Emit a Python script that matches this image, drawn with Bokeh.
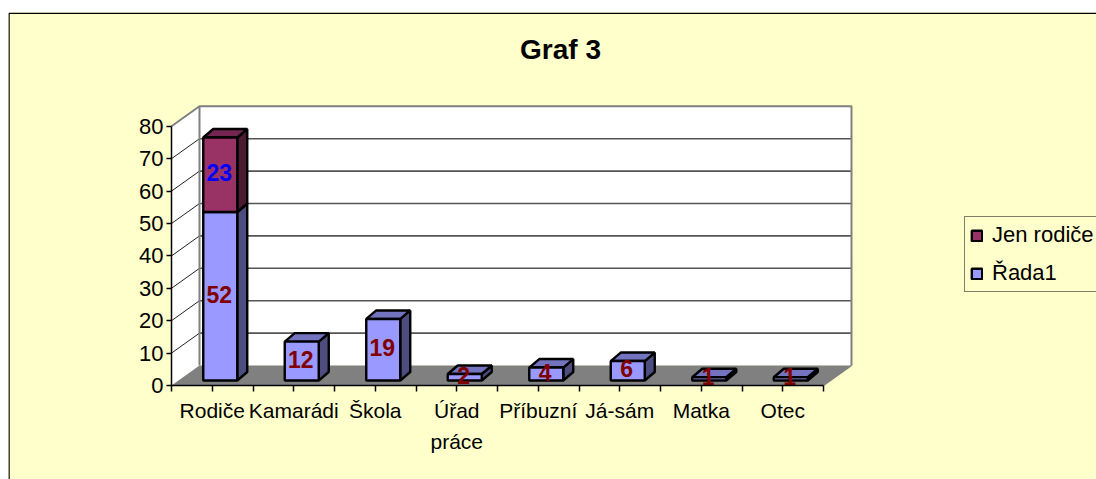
from bokeh.plotting import figure
from bokeh.embed import file_html
from bokeh.resources import INLINE
from bokeh.models import LinearAxis, FixedTicker, Legend, LegendItem, Range1d
from bokeh.core.properties import value

title = "Graf 3"
categories = ["Rodiče", "Kamarádi", "Škola", "Úřad\npráce", "Příbuzní", "Já-sám", "Matka", "Otec"]
rada1 = [52, 12, 19, 2, 4, 6, 1, 1]
jen_rodice = [23, 0, 0, 0, 0, 0, 0, 0]
y_ticks = [0, 10, 20, 30, 40, 50, 60, 70, 80]
series_names = ["Jen rodiče", "Řada1"]

# scale: pixels per unit, and 3-D projection expressed in pixels
PX_X, PX_Y = 81.5, 3.24
FONT = "Liberation Sans"
WALL_DX, WALL_DY = 28 / PX_X, 20 / PX_Y
BAR_W = 34 / PX_X
BAR_SHIFT_X, BAR_SHIFT_Y = 8 / PX_X, 5 / PX_Y
DEPTH_X, DEPTH_Y = 10 / PX_X, 8.5 / PX_Y
N = len(categories)
YMAX = y_ticks[-1]
BG = "#FFFFCC"

p = figure(width=1096, height=479, output_backend="svg", toolbar_location=None,
           x_range=Range1d(-163 / PX_X, 925 / PX_X), y_range=Range1d(-94 / PX_Y, 373 / PX_Y),
           min_border_left=8, min_border_right=0, min_border_bottom=0, min_border_top=12,
           x_axis_type=None, y_axis_type=None, background_fill_color=BG, border_fill_color="white",
           outline_line_color=None)
p.grid.visible = False

# chart area border: left and top sides visible, others fall outside the frame
p.quad(left=[-163 / PX_X + 0.006], right=[20], top=[373 / PX_Y - 0.25], bottom=[-100],
       fill_color=BG, line_color="black", line_width=1.5)

# walls and floor
p.patch([0, WALL_DX, WALL_DX, 0], [0, WALL_DY, YMAX + WALL_DY, YMAX], fill_color="white", line_color=None)
p.patch([WALL_DX, N + WALL_DX, N + WALL_DX, WALL_DX], [WALL_DY, WALL_DY, YMAX + WALL_DY, YMAX + WALL_DY],
        fill_color="white", line_color=None)
p.patch([0, N, N + WALL_DX, WALL_DX], [0, 0, WALL_DY, WALL_DY], fill_color="#808080", line_color=None)

grid = y_ticks[1:-1]
p.segment([0] * len(grid), grid, [WALL_DX] * len(grid), [g + WALL_DY for g in grid], line_color="#222222", line_width=1)
p.segment([WALL_DX] * len(grid), [g + WALL_DY for g in grid], [N + WALL_DX] * len(grid), [g + WALL_DY for g in grid],
          line_color="#555555", line_width=1.6)
p.line([0, WALL_DX, N + WALL_DX, N + WALL_DX], [YMAX, YMAX + WALL_DY, YMAX + WALL_DY, WALL_DY],
       line_color="#808080", line_width=2)
p.line([WALL_DX, WALL_DX], [WALL_DY, YMAX + WALL_DY], line_color="#808080", line_width=2)
p.line([N, N + WALL_DX], [0, WALL_DY], line_color="#808080", line_width=1.5)


def draw(idx, low, high, face, side, top):
    xl = [i + 0.5 + BAR_SHIFT_X - BAR_W / 2 for i in idx]
    xr = [x + BAR_W for x in xl]
    bot = [l + BAR_SHIFT_Y for l in low]
    tp = [h + BAR_SHIFT_Y for h in high]
    p.patches([[r, r + DEPTH_X, r + DEPTH_X, r] for r in xr],
              [[b, b + DEPTH_Y, t + DEPTH_Y, t] for b, t in zip(bot, tp)],
              fill_color=side, line_color="black", line_width=2.4)
    p.patches([[l, r, r + DEPTH_X, l + DEPTH_X] for l, r in zip(xl, xr)],
              [[t, t, t + DEPTH_Y, t + DEPTH_Y] for t in tp],
              fill_color=top, line_color="black", line_width=2.4)
    return p.quad(left=xl, right=xr, bottom=bot, top=tp, fill_color=face, line_color="black", line_width=2.4)


idx_a = list(range(N))
r_a = draw(idx_a, [0] * N, rada1, "#9999FF", "#4D4D80", "#7373BF")
idx_b = [i for i in range(N) if jen_rodice[i] > 0]
r_b = draw(idx_b, [rada1[i] for i in idx_b], [rada1[i] + jen_rodice[i] for i in idx_b],
           "#993366", "#4D1A33", "#732650")

# value labels
LABEL_UP = 2 / PX_Y
p.text([i + 0.5 + BAR_SHIFT_X - 1 / PX_X for i in idx_a], [rada1[i] / 2 + BAR_SHIFT_Y + LABEL_UP for i in idx_a],
       text=[str(v) for v in rada1], text_color="#800000", text_font=value(FONT), text_font_style="bold",
       text_font_size="23px", text_align="center", text_baseline="middle")
p.text([i + 0.5 + BAR_SHIFT_X - 1 / PX_X for i in idx_b],
       [rada1[i] + jen_rodice[i] / 2 + BAR_SHIFT_Y + LABEL_UP for i in idx_b],
       text=[str(jen_rodice[i]) for i in idx_b], text_color="#0000FF", text_font=value(FONT), text_font_style="bold",
       text_font_size="23px", text_align="center", text_baseline="middle")

# axes
yax = LinearAxis(fixed_location=0, bounds=(0, YMAX), ticker=FixedTicker(ticks=y_ticks))
yax.major_label_text_font = FONT
yax.major_label_text_font_size = "22px"
yax.major_label_text_color = "black"
yax.major_tick_out = 5
yax.major_tick_in = 0
yax.major_tick_line_color = "black"
yax.major_tick_line_width = 1.5
yax.minor_tick_line_color = None
yax.axis_line_color = "black"
yax.axis_line_width = 1.5
yax.major_label_standoff = 3
p.add_layout(yax, "left")

half = [i / 2 for i in range(2 * N + 1)]
xax = LinearAxis(fixed_location=0, bounds=(0, N), ticker=FixedTicker(ticks=half))
xax.major_label_overrides = {h: (categories[int(h)].split("\n")[0] if h != int(h) else "") for h in half}
xax.major_label_text_font = FONT
xax.major_label_text_font_size = "21px"
xax.major_label_text_color = "black"
xax.major_tick_out = 6
xax.major_tick_in = 0
xax.major_tick_line_color = "black"
xax.major_tick_line_width = 1.5
xax.minor_tick_line_color = None
xax.axis_line_color = "black"
xax.axis_line_width = 1.5
xax.major_label_standoff = 7
p.add_layout(xax, "below")

# second lines of wrapped category labels
second = [(i, c.split("\n")[1]) for i, c in enumerate(categories) if "\n" in c]
p.text([i + 0.5 for i, _ in second], [-56 / PX_Y] * len(second), text=[s for _, s in second],
       text_font=value(FONT), text_font_size="21px", text_color="black", text_align="center", text_baseline="middle")

# title
p.text([(560 - 171) / PX_X], [(385 - 49) / PX_Y], text=[title], text_font=value(FONT), text_font_style="bold",
       text_font_size="28px", text_color="black", text_align="center", text_baseline="middle")

legend = Legend(items=[LegendItem(label=series_names[0], renderers=[r_b]),
                       LegendItem(label=series_names[1], renderers=[r_a])],
                location=(956, 187), orientation="vertical", background_fill_color=BG, background_fill_alpha=1,
                border_line_color="black", border_line_width=1, label_text_font=FONT, label_text_font_size="22px",
                label_text_color="black", glyph_width=13, glyph_height=13, label_standoff=9, padding=5, spacing=12,
                label_height=24, margin=0)
p.add_layout(legend, "center")

open("out.html", "w").write(file_html(p, INLINE))
